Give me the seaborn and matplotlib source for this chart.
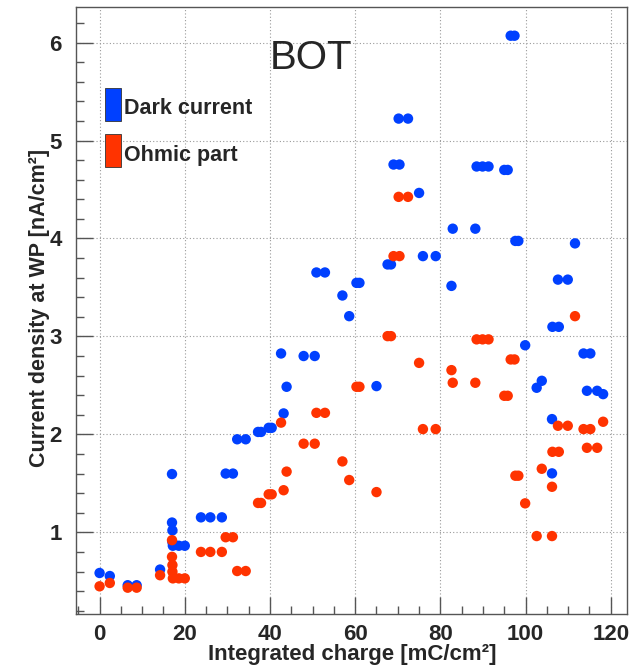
import pandas as pd
import seaborn as sns
import matplotlib.pyplot as plt
from matplotlib.patches import Rectangle
from matplotlib.ticker import MultipleLocator

# integrated charge [mC/cm2] for each measurement
charge = [0.0, 2.4, 6.6, 8.7, 14.2, 17.0, 17.0, 17.1, 17.1, 17.2, 18.6, 20.0,
          23.8, 26.0, 28.7, 29.6, 31.3, 32.3, 34.3, 37.2, 37.9, 39.7, 40.4,
          42.6, 43.2, 43.9, 47.9, 50.5, 50.9, 52.9, 57.0, 58.6, 60.3, 61.0,
          65.0, 67.6, 68.4, 69.0, 70.4, 70.2, 72.4, 75.0, 75.9, 78.9, 82.6,
          82.9, 88.2, 88.5, 89.9, 91.3, 95.0, 95.8, 96.5, 97.4, 97.6, 98.3,
          99.9, 102.6, 103.8, 106.2, 106.2, 106.3, 107.8, 107.6, 109.9, 111.6,
          113.6, 115.2, 114.4, 116.8, 118.2]

dark_current = [0.585, 0.554, 0.46, 0.46, 0.62, 1.595, 1.10, 1.02, 0.90, 0.863, 0.863, 0.863,
                1.153, 1.153, 1.153, 1.60, 1.60, 1.95, 1.95, 2.025, 2.025, 2.067, 2.067,
                2.826, 2.214, 2.486, 2.80, 2.80, 3.653, 3.653, 3.418, 3.207, 3.547, 3.547,
                2.493, 3.735, 3.735, 4.755, 4.755, 5.224, 5.224, 4.465, 3.82, 3.82, 3.516,
                4.10, 4.10, 4.735, 4.735, 4.735, 4.70, 4.70, 6.07, 6.07, 3.975, 3.975,
                2.91, 2.476, 2.547, 2.156, 1.602, 3.098, 3.098, 3.58, 3.58, 3.95,
                2.826, 2.826, 2.445, 2.445, 2.411]

ohmic_part = [0.449, 0.483, 0.435, 0.435, 0.562, 0.92, 0.75, 0.666, 0.598, 0.53, 0.53, 0.53,
              0.80, 0.80, 0.80, 0.95, 0.95, 0.605, 0.605, 1.30, 1.30, 1.388, 1.388,
              2.12, 1.43, 1.62, 1.905, 1.905, 2.22, 2.22, 1.724, 1.534, 2.486, 2.486,
              1.411, 3.003, 3.003, 3.82, 3.82, 4.425, 4.425, 2.73, 2.054, 2.054, 2.656,
              2.527, 2.527, 2.97, 2.97, 2.97, 2.394, 2.394, 2.765, 2.765, 1.578, 1.578,
              1.296, 0.962, 1.649, 0.962, 1.465, 1.822, 1.822, 2.088, 2.088, 3.207,
              2.054, 2.054, 1.863, 1.863, 2.129]

labels = ["Dark current", "Ohmic part"]
colors = {"Dark current": "#0040ff", "Ohmic part": "#ff3300"}

# long format, dark current first so the ohmic points sit on top
df = pd.concat([
    pd.DataFrame({"charge": charge, "current": dark_current, "part": labels[0]}),
    pd.DataFrame({"charge": charge, "current": ohmic_part, "part": labels[1]}),
], ignore_index=True)

sns.set_theme(style="white")
plt.rcParams["font.family"] = ["Liberation Sans", "DejaVu Sans"]

fig = plt.figure(figsize=(6.3, 6.66), dpi=100)
ax = fig.add_axes([0.1202, 0.0776, 0.8750, 0.9114])

sns.scatterplot(data=df, x="charge", y="current", hue="part", palette=colors,
                s=56, linewidth=0, legend=False, ax=ax, zorder=3)

ax.set_xlim(-5.6, 123.8)
ax.set_ylim(0.163, 6.36)
ax.xaxis.set_major_locator(MultipleLocator(20))
ax.xaxis.set_minor_locator(MultipleLocator(5))
ax.yaxis.set_major_locator(MultipleLocator(1))
ax.yaxis.set_minor_locator(MultipleLocator(0.2))

ax.grid(True, which="major", color="#9a9a9a", linestyle=(0, (1, 2)), linewidth=0.8)
ax.tick_params(which="both", direction="in", color="#555555", width=1,
               bottom=True, left=True, top=False, right=False)
ax.tick_params(which="major", length=12)
ax.tick_params(which="minor", length=6)
ax.tick_params(axis="x", which="major", pad=7, labelsize=16)
ax.tick_params(axis="y", which="major", pad=10, labelsize=16)
for lab in ax.get_xticklabels() + ax.get_yticklabels():
    lab.set_fontweight("bold")
for sp in ax.spines.values():
    sp.set_color("#555555")
    sp.set_linewidth(1)

ax.set_xlabel("")
ax.set_ylabel("")
fig.text(0.559, 0.009, "Integrated charge [mC/cm²]", ha="center", va="baseline",
         fontsize=16, fontweight="bold")
fig.text(0.063, 0.538, "Current density at WP [nA/cm²]", ha="center", va="center",
         rotation=90, fontsize=15.5, fontweight="bold")

ax.text(0.352, 0.898, "BOT", transform=ax.transAxes, fontsize=29, ha="left", va="baseline")

# legend boxes drawn by hand
box_x, box_w, box_h = 105 / 630, 15.5 / 630, 33 / 666
for i, lab in enumerate(labels):
    top = 88 + i * 46
    fig.add_artist(Rectangle((box_x, 1 - (top + 33) / 666), box_w, box_h,
                             transform=fig.transFigure, facecolor=colors[lab],
                             edgecolor="#333333", linewidth=0.6))
    fig.text(124 / 630, 1 - (114.3 + i * 46.4) / 666, lab, ha="left", va="baseline",
             fontsize=15.5, fontweight="bold")

fig.savefig("out.png", dpi=100)
